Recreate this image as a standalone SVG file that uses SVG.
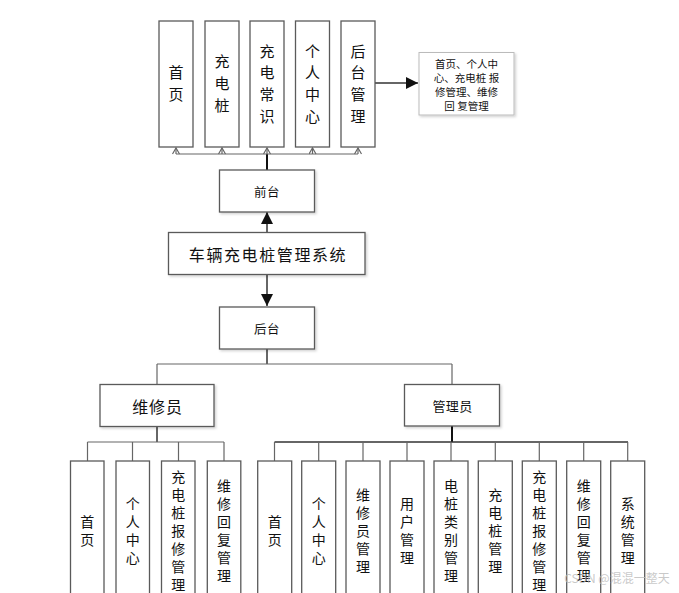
<svg xmlns="http://www.w3.org/2000/svg" width="679" height="593" viewBox="0 0 679 593">
<defs>
<style>
.box{fill:#fff;stroke:#5a5a5a;stroke-width:1.3}
.t{font-family:"Noto Sans CJK SC","Liberation Sans",sans-serif;fill:#111;text-anchor:middle;dominant-baseline:central}
.v{font-family:"Noto Sans CJK SC","Liberation Sans",sans-serif;fill:#111;text-anchor:middle;writing-mode:vertical-rl;text-orientation:upright}
.v15{font-size:15px;letter-spacing:6.7px}
.v14{font-size:14px;letter-spacing:4px}
.thin{fill:none;stroke:#666;stroke-width:1.2}
.thick{fill:none;stroke:#111;stroke-width:2}
.mid{fill:none;stroke:#333;stroke-width:1.5}
</style>
<marker id="open" markerWidth="10" markerHeight="8" refX="7" refY="4" orient="auto" markerUnits="userSpaceOnUse">
<path d="M1,0.5 L7,4 L1,7.5" fill="none" stroke="#666" stroke-width="1.2"/>
</marker>
<marker id="fill" markerWidth="14" markerHeight="12" refX="12" refY="6" orient="auto" markerUnits="userSpaceOnUse">
<path d="M0,0 L12,6 L0,12 Z" fill="#111"/>
</marker>
<filter id="sh" x="-10%" y="-10%" width="130%" height="140%">
<feDropShadow dx="1.5" dy="1.5" stdDeviation="1" flood-color="#000" flood-opacity="0.18"/>
</filter>
</defs>

<g id="connectors">
<line class="thick" x1="267" y1="170" x2="267" y2="154"/>
<line class="thin" x1="176" y1="154" x2="358" y2="154"/>
<line class="thin" x1="176" y1="154" x2="176" y2="148" marker-end="url(#open)"/>
<line class="thin" x1="222" y1="154" x2="222" y2="148" marker-end="url(#open)"/>
<line class="thin" x1="267" y1="154" x2="267" y2="148" marker-end="url(#open)"/>
<line class="thin" x1="312.5" y1="154" x2="312.5" y2="148" marker-end="url(#open)"/>
<line class="thin" x1="358" y1="154" x2="358" y2="148" marker-end="url(#open)"/>
<line class="mid" x1="375" y1="83" x2="418" y2="83" marker-end="url(#fill)"/>
<line class="mid" x1="267" y1="232" x2="267" y2="212" marker-end="url(#fill)"/>
<line class="mid" x1="267" y1="274" x2="267" y2="306" marker-end="url(#fill)"/>
<line class="mid" x1="267" y1="349" x2="267" y2="364"/>
<line class="thin" x1="157" y1="364" x2="452" y2="364"/>
<line class="thin" x1="157" y1="364" x2="157" y2="384"/>
<line class="thin" x1="452" y1="364" x2="452" y2="384"/>
<line class="mid" x1="157" y1="427" x2="157" y2="442"/>
<line class="thin" x1="87.5" y1="442" x2="224" y2="442"/>
<line class="thin" x1="87.5" y1="442" x2="87.5" y2="461"/>
<line class="thin" x1="132.5" y1="442" x2="132.5" y2="461"/>
<line class="thin" x1="178.5" y1="442" x2="178.5" y2="461"/>
<line class="thin" x1="224" y1="442" x2="224" y2="461"/>
<line class="thick" x1="452" y1="426" x2="452" y2="442"/>
<line class="mid" x1="274.5" y1="442" x2="628" y2="442"/>
<line class="thin" x1="274.5" y1="442" x2="274.5" y2="461"/>
<line class="thin" x1="318.7" y1="442" x2="318.7" y2="461"/>
<line class="thin" x1="363" y1="442" x2="363" y2="461"/>
<line class="thin" x1="407" y1="442" x2="407" y2="461"/>
<line class="thin" x1="451" y1="442" x2="451" y2="461"/>
<line class="thin" x1="495.3" y1="442" x2="495.3" y2="461"/>
<line class="thin" x1="539.3" y1="442" x2="539.3" y2="461"/>
<line class="thin" x1="583.7" y1="442" x2="583.7" y2="461"/>
<line class="thin" x1="627.7" y1="442" x2="627.7" y2="461"/>
</g>

<g id="f-home"><rect class="box" x="159" y="21" width="34" height="126"/><text class="v v15" x="176" y="86.8">首页</text></g>
<g id="f-pile"><rect class="box" x="205" y="21" width="34" height="126"/><text class="v v15" x="222" y="86.8">充电桩</text></g>
<g id="f-know"><rect class="box" x="250" y="21" width="34" height="126"/><text class="v v15" x="267" y="86.8">充电常识</text></g>
<g id="f-user"><rect class="box" x="295.5" y="21" width="34" height="126"/><text class="v v15" x="312.5" y="86.8">个人中心</text></g>
<g id="f-admin"><rect class="box" x="341" y="21" width="34" height="126"/><text class="v v15" x="358" y="86.8">后台管理</text></g>

<g id="note"><rect class="box" x="419" y="52.5" width="95" height="62.5" filter="url(#sh)" style="stroke:#bbb;stroke-width:1"/>
<text class="t" style="font-size:10.5px"><tspan x="466.5" y="62.5">首页、个人中</tspan><tspan x="466.5" y="77">心、充电桩 报</tspan><tspan x="466.5" y="91">修管理、维修</tspan><tspan x="466.5" y="105">回 复管理</tspan></text></g>

<g id="front"><rect class="box" x="219.5" y="170" width="95" height="42" filter="url(#sh)"/>
<text class="t" x="267" y="191" style="font-size:12.5px;letter-spacing:0.5px">前台</text></g>

<g id="system"><rect class="box" x="168.5" y="232.5" width="196.5" height="42" filter="url(#sh)"/>
<text class="t" x="268" y="254" style="font-size:16px;letter-spacing:1.6px">车辆充电桩管理系统</text></g>

<g id="back"><rect class="box" x="219.5" y="307" width="95" height="42" filter="url(#sh)"/>
<text class="t" x="267" y="328" style="font-size:12.5px;letter-spacing:0.5px">后台</text></g>

<g id="repairer"><rect class="box" x="100" y="384.5" width="114" height="42" filter="url(#sh)"/>
<text class="t" x="157.5" y="405.5" style="font-size:16px;letter-spacing:0.8px">维修员</text></g>

<g id="admin"><rect class="box" x="404.5" y="384.5" width="95" height="41.5" filter="url(#sh)"/>
<text class="t" x="452.5" y="405" style="font-size:13px;letter-spacing:0.4px">管理员</text></g>

<g id="r-home"><rect class="box" x="70.5" y="461" width="33.5" height="145"/><text class="v v14" x="87.3" y="532.5">首页</text></g>
<g id="r-user"><rect class="box" x="116" y="461" width="33.5" height="145"/><text class="v v14" x="132.7" y="532.5">个人中心</text></g>
<g id="r-repair"><rect class="box" x="161.5" y="461" width="33.5" height="145"/><text class="v v14" x="178.3" y="532.5">充电桩报修管理</text></g>
<g id="r-reply"><rect class="box" x="207.3" y="461" width="33.5" height="145"/><text class="v v14" x="224" y="532.5">维修回复管理</text></g>

<g id="a-home"><rect class="box" x="257.7" y="461" width="34" height="145"/><text class="v v14" x="274.7" y="532.5">首页</text></g>
<g id="a-user"><rect class="box" x="301.7" y="461" width="34" height="145"/><text class="v v14" x="318.7" y="532.5">个人中心</text></g>
<g id="a-repairer"><rect class="box" x="346" y="461" width="34" height="145"/><text class="v v14" x="363" y="532.5">维修员管理</text></g>
<g id="a-users"><rect class="box" x="390" y="461" width="34" height="145"/><text class="v v14" x="407" y="532.5">用户管理</text></g>
<g id="a-category"><rect class="box" x="434" y="461" width="34" height="145"/><text class="v v14" x="451" y="532.5">电桩类别管理</text></g>
<g id="a-pile"><rect class="box" x="478.3" y="461" width="34" height="145"/><text class="v v14" x="495.3" y="532.5">充电桩管理</text></g>
<g id="a-repair"><rect class="box" x="522.3" y="461" width="34" height="145"/><text class="v v14" x="539.3" y="532.5">充电桩报修管理</text></g>
<g id="a-reply"><rect class="box" x="566.7" y="461" width="34" height="145"/><text class="v v14" x="583.7" y="532.5">维修回复管理</text></g>
<g id="a-system"><rect class="box" x="610.7" y="461" width="34" height="145"/><text class="v v14" x="627.7" y="532.5">系统管理</text></g>

<text x="617" y="577" style="font-family:'Noto Sans CJK SC','Liberation Sans',sans-serif;font-size:12px;fill:#bbb;fill-opacity:0.8;text-anchor:middle;dominant-baseline:central">CSDN @混混一整天</text>
</svg>
